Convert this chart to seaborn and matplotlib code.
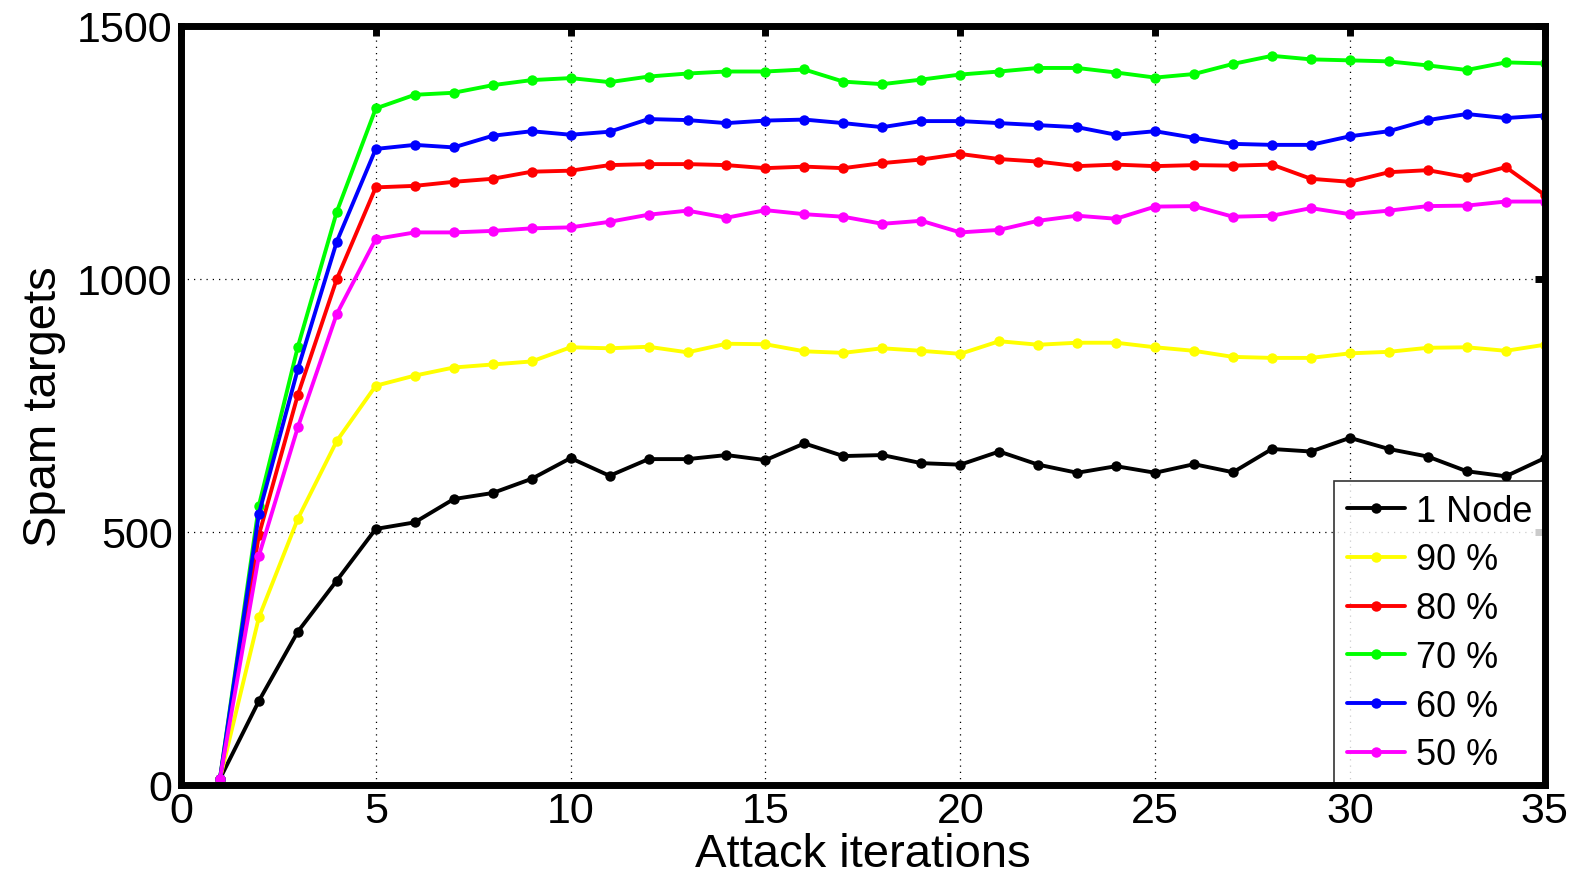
import pandas as pd
import numpy as np
import matplotlib
matplotlib.use("Agg")
import matplotlib.pyplot as plt
import seaborn as sns

# Values
iterations = list(range(1, 36))
node1 = [12, 166, 303, 404, 506, 519, 565, 577, 605, 646,
         611, 644, 644, 652, 642, 675, 650, 652, 636, 633,
         659, 633, 617, 630, 617, 634, 618, 664, 659, 686,
         664, 649, 620, 610, 646]
pct90 = [12, 331, 526, 680, 789, 809, 825, 831, 837, 865,
         863, 866, 855, 872, 871, 857, 854, 863, 858, 852,
         877, 870, 874, 874, 865, 858, 846, 844, 844, 853,
         856, 864, 865, 858, 870]
pct80 = [12, 494, 771, 1000, 1181, 1184, 1192, 1198, 1212, 1214,
         1225, 1227, 1227, 1225, 1219, 1222, 1219, 1229, 1236, 1247,
         1237, 1232, 1223, 1226, 1223, 1225, 1224, 1226, 1198, 1192,
         1211, 1215, 1201, 1221, 1166]
pct70 = [12, 552, 866, 1133, 1337, 1364, 1368, 1383, 1393, 1397,
         1389, 1400, 1406, 1410, 1410, 1414, 1390, 1385, 1394, 1404,
         1410, 1417, 1417, 1408, 1398, 1405, 1425, 1441, 1434, 1432,
         1430, 1422, 1413, 1428, 1426]
pct60 = [12, 536, 822, 1074, 1257, 1265, 1260, 1283, 1292, 1285,
         1291, 1316, 1314, 1308, 1313, 1315, 1308, 1300, 1312, 1312,
         1308, 1304, 1300, 1285, 1292, 1279, 1267, 1265, 1265, 1282,
         1292, 1314, 1326, 1318, 1323]
pct50 = [12, 453, 707, 931, 1079, 1092, 1092, 1095, 1100, 1102,
         1113, 1127, 1135, 1121, 1136, 1128, 1123, 1109, 1115, 1092,
         1097, 1115, 1125, 1119, 1143, 1144, 1123, 1125, 1140, 1128,
         1135, 1144, 1145, 1153, 1153]

labels = ["1 Node", "90 %", "80 %", "70 %", "60 %", "50 %"]
colors = ["#000000", "#ffff00", "#ff0000", "#00ff00", "#0000ff", "#ff00ff"]
xticks = [0, 5, 10, 15, 20, 25, 30, 35]
yticks = [0, 500, 1000, 1500]

#Build long dataframe
frames = []
for lab, vals in zip(labels, [node1, pct90, pct80, pct70, pct60, pct50]):
    frames.append(pd.DataFrame({"iter": iterations, "targets": vals, "series": lab}))
df = pd.concat(frames, ignore_index=True)

sns.set_style("white")
plt.rcParams['font.family'] = ['Liberation Sans', 'DejaVu Sans']
plt.rcParams['text.color'] = 'black'
plt.rcParams['axes.labelcolor'] = 'black'
plt.rcParams['xtick.color'] = 'black'
plt.rcParams['ytick.color'] = 'black'

fig = plt.figure(figsize=(15.79, 8.87), dpi=100)
ax = fig.add_axes([0.1146, 0.1139, 0.8637, 0.8557])

sns.lineplot(data=df, x="iter", y="targets", hue="series", hue_order=labels,
             palette=dict(zip(labels, colors)), marker="o", markersize=7.5,
             markeredgewidth=0, linewidth=2.8, ax=ax, zorder=3)

ax.set_xlim(0, 35)
ax.set_ylim(0, 1500)
ax.set_xticks(xticks)
ax.set_yticks(yticks)
ax.grid(True, color="black", linestyle=(0, (1, 4)), linewidth=0.9)
ax.tick_params(direction="in", length=7, width=5, labelsize=31,
               top=True, right=True)
ax.tick_params(axis="x", pad=4)
ax.tick_params(axis="y", pad=6)
for s in ax.spines.values():
    s.set_linewidth(5)
    s.set_color("black")
    s.set_zorder(5)

ax.set_xlabel("Attack iterations", fontsize=34, labelpad=1)
ax.set_ylabel("Spam targets", fontsize=34, labelpad=8)

leg = ax.legend(loc="lower right", fontsize=26, frameon=True, fancybox=False,
                handlelength=1.6, handletextpad=0.3, labelspacing=0.38,
                borderaxespad=0.0, borderpad=0.35)
leg.get_frame().set_edgecolor("black")
leg.get_frame().set_linewidth(1.2)
leg.set_zorder(4)

fig.savefig("out.png", dpi=100)
